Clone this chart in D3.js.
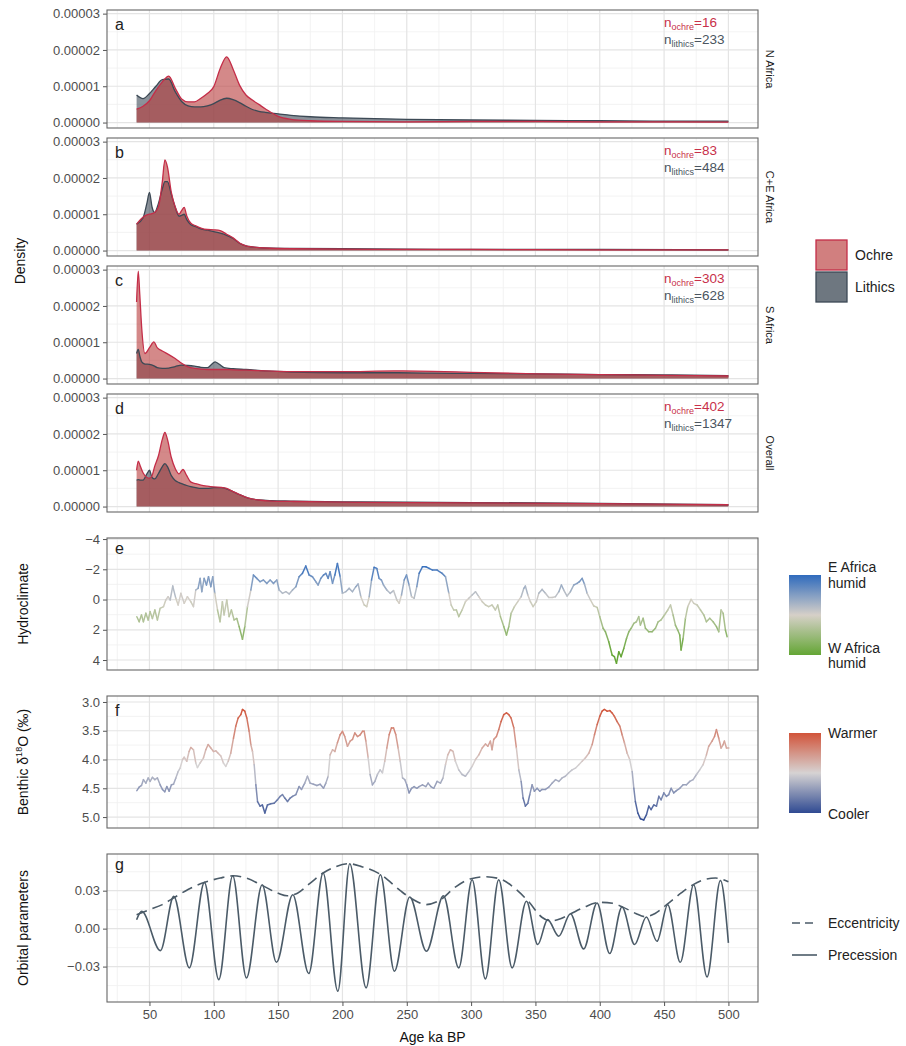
<!DOCTYPE html>
<html>
<head>
<meta charset="utf-8">
<script src="https://cdn.jsdelivr.net/npm/d3@7"></script>
<style>
  body { margin: 0; background: #fff; }
  text { font-family: "Liberation Sans", Arial, sans-serif; }
</style>
</head>
<body>
<div id="chart"></div>
<script>
// ---- data (density values in units of 1e-5) ----
const ageA = [40, 45, 50, 55, 60, 65, 70, 75, 80, 85, 90, 95, 100, 105, 110, 115, 120, 125, 130, 135, 140, 150, 160, 175, 200, 250, 300, 350, 400, 450, 500];
const ochreA = [0.37, 0.45, 0.6, 0.88, 1.12, 1.28, 0.95, 0.65, 0.57, 0.57, 0.67, 0.8, 0.99, 1.49, 1.81, 1.47, 1.03, 0.76, 0.62, 0.5, 0.38, 0.17, 0.09, 0.05, 0.03, 0.02, 0.03, 0.03, 0.02, 0.02, 0.01];
const lithicsA = [0.76, 0.66, 0.8, 1.0, 1.18, 1.2, 0.85, 0.58, 0.46, 0.43, 0.43, 0.46, 0.52, 0.62, 0.67, 0.63, 0.55, 0.45, 0.36, 0.31, 0.28, 0.24, 0.2, 0.16, 0.13, 0.09, 0.07, 0.06, 0.05, 0.04, 0.04];

const ageB = [40, 45, 48, 50, 52, 54, 57, 60, 62, 64, 67, 70, 73, 75, 77, 79, 82, 86, 90, 95, 100, 105, 110, 115, 120, 125, 130, 140, 160, 200, 250, 300, 400, 500];
const ochreB = [0.73, 0.92, 0.98, 1.0, 1.02, 1.05, 1.2, 1.9, 2.5, 2.3, 1.6, 1.2, 1.0, 1.1, 1.19, 0.95, 0.76, 0.68, 0.62, 0.58, 0.57, 0.55, 0.45, 0.35, 0.21, 0.13, 0.1, 0.07, 0.05, 0.04, 0.03, 0.03, 0.02, 0.02];
const lithicsB = [0.73, 0.9, 1.3, 1.6, 1.2, 1.05, 1.3, 1.7, 1.9, 1.9, 1.55, 1.2, 0.95, 0.97, 1.0, 0.85, 0.72, 0.66, 0.6, 0.56, 0.52, 0.48, 0.42, 0.33, 0.2, 0.13, 0.1, 0.07, 0.06, 0.05, 0.04, 0.03, 0.03, 0.02];

const ageC = [40, 41.3, 42.5, 44, 46.5, 50, 53.5, 56, 60, 65, 70, 75, 80, 85, 90, 95, 98, 101, 104, 108, 115, 125, 140, 160, 200, 240, 270, 300, 350, 400, 450, 500];
const ochreC = [2.11, 2.96, 2.3, 1.38, 0.69, 0.85, 1.01, 0.85, 0.76, 0.66, 0.55, 0.42, 0.32, 0.28, 0.26, 0.25, 0.25, 0.25, 0.25, 0.25, 0.24, 0.23, 0.21, 0.19, 0.19, 0.21, 0.2, 0.17, 0.13, 0.11, 0.09, 0.07];
const lithicsC = [0.69, 0.8, 0.62, 0.46, 0.4, 0.39, 0.35, 0.3, 0.28, 0.29, 0.33, 0.37, 0.36, 0.34, 0.31, 0.3, 0.38, 0.46, 0.4, 0.3, 0.27, 0.25, 0.21, 0.18, 0.16, 0.16, 0.15, 0.14, 0.13, 0.11, 0.1, 0.08];

const ageD = [40, 41.3, 43, 45, 48, 50, 52, 54, 57, 60, 62, 64, 67, 70, 73, 76, 79, 82, 86, 90, 95, 100, 106, 110, 115, 120, 127, 135, 145, 160, 200, 250, 300, 400, 500];
const ochreD = [1.0, 1.25, 1.1, 0.93, 0.8, 0.78, 0.85, 1.1, 1.4, 1.85, 2.04, 1.85, 1.35, 1.05, 0.9, 1.02, 0.85, 0.68, 0.63, 0.59, 0.56, 0.54, 0.53, 0.5, 0.41, 0.33, 0.23, 0.18, 0.15, 0.14, 0.12, 0.11, 0.1, 0.08, 0.05];
const lithicsD = [0.73, 0.74, 0.73, 0.73, 0.9, 1.0, 0.8, 0.76, 0.91, 1.1, 1.18, 1.1, 0.85, 0.72, 0.66, 0.62, 0.58, 0.55, 0.52, 0.5, 0.5, 0.52, 0.52, 0.49, 0.41, 0.33, 0.23, 0.18, 0.16, 0.15, 0.13, 0.12, 0.11, 0.09, 0.05];

const regions = ["N Africa", "C+E Africa", "S Africa", "Overall"];
const nOchre = [16, 83, 303, 402];
const nLithics = [233, 484, 628, 1347];

const hydroAge = [40.2, 42, 43.8, 45.3, 47.2, 49, 50.5, 52.3, 54.2, 56.2, 58.3, 60.9, 62.7, 64.5, 66.1, 68.1, 70.5, 72.3, 74.4, 77, 79.5, 82.1, 84.2, 86, 87.8, 89.4, 90.7, 92.5, 94.3, 95.9, 97.7, 99.2, 100.8, 102.9, 104.9, 106.7, 108, 110.1, 111.9, 113.7, 115.8, 117.9, 119.7, 122.3, 124.1, 126.2, 128.8, 130.8, 133.4, 136, 138.6, 141.2, 143.8, 146.4, 149, 150.8, 153.4, 156, 158.6, 161.2, 163.8, 166.3, 168.9, 171.5, 174.1, 176.7, 179.3, 181.1, 183.2, 185.3, 187.1, 188.9, 190.4, 192.3, 194.1, 196.1, 198.2, 200, 202.6, 205.2, 207.8, 210.4, 212.2, 214.3, 216.9, 218.9, 220.8, 222.6, 224.6, 226.7, 228.5, 230.3, 231.9, 234.5, 237.1, 239.7, 242.3, 244.1, 245.9, 248, 249.8, 251.8, 253.7, 255.7, 257.8, 259.6, 262.2, 264.8, 267.4, 270, 273.6, 277.5, 280.1, 282.7, 284.5, 286.5, 288.6, 290.4, 293, 295.6, 298.2, 300.8, 303.4, 306, 308.6, 311.2, 313.7, 316.3, 318.9, 320.7, 322.8, 325.4, 327.5, 329.3, 331.1, 333.7, 336.3, 338.9, 341, 342.2, 344.1, 346.1, 348.2, 350.8, 352.6, 355.2, 357.8, 360.4, 363, 365.6, 368.2, 370.2, 372, 374.6, 377.2, 379.8, 382.4, 384.2, 386.3, 388.1, 390.2, 392.8, 395.4, 398, 400, 402.6, 404.4, 407, 409.6, 411.4, 413, 414.8, 416.6, 418.7, 420.8, 422.6, 424.4, 426.5, 428.5, 430.3, 431.6, 433.7, 435.5, 438.1, 440.7, 443.3, 445.4, 447.7, 450.3, 452.9, 455, 457, 458.8, 460.6, 462.2, 463.2, 464.8, 466.6, 468.4, 471, 473.1, 475.7, 478.3, 480.9, 482.9, 485.5, 488.1, 490.7, 492.5, 494.3, 495.9, 497.7, 499];
const hydroValue = [1.14, 1.47, 1.02, 1.47, 0.91, 1.36, 0.8, 1.25, 0.69, 1.35, 0.58, 0.47, 0.03, -0.19, 0.03, -0.89, -0.08, 0.36, -0.41, 0.25, -0.19, 0.14, 0.47, -0.63, -0.74, -1.4, -0.52, -1.4, -0.96, -1.51, -0.85, -1.51, -0.41, 0.69, 1.47, 0.14, 1.02, 0.03, 1.13, 0.69, 1.35, 1.25, 1.79, 2.63, 1.79, 0.47, -0.63, -1.62, -1.4, -1.18, -1.29, -1.07, -1.29, -1.07, -1.29, -0.63, -0.41, -0.52, -0.37, -0.63, -0.85, -1.51, -1.73, -2.22, -1.62, -1.51, -1.18, -0.96, -1.4, -1.62, -1.73, -1.4, -1.84, -1.07, -1.62, -2.39, -1.51, -0.41, -0.52, -0.74, -0.52, -0.85, -1.03, -0.19, 0.36, 0.47, -0.19, -1.29, -2.13, -2.06, -1.4, -1.29, -0.96, -0.63, -0.41, -0.59, 0.03, 0.25, -0.3, -1.29, -1.62, -0.96, -0.19, -0.08, -0.85, -1.73, -2.17, -2.17, -2.06, -1.95, -1.95, -1.73, -1.51, -0.41, 0.36, 0.69, 0.69, 1.13, 0.69, 0.14, -0.08, -0.3, -0.52, -0.19, 0.14, 0.36, 0.47, 0.36, 0.69, 0.36, 1.13, 1.79, 2.35, 1.79, 0.91, 0.47, 0.14, -0.19, -0.74, -0.89, -0.3, 0.14, 0.47, 0.14, -0.41, -0.67, -0.41, -0.14, -0.14, -0.19, -0.52, -0.96, -0.63, -0.23, -0.52, -0.96, -1.07, -1.18, -1.4, -1.03, -0.41, 0.03, 0.43, 0.52, 1.13, 1.9, 2.13, 2.79, 3.67, 3.78, 4.22, 3.45, 3.78, 3.23, 2.57, 2.13, 1.9, 1.57, 1.47, 1.13, 1.69, 1.24, 1.9, 2.13, 2.13, 1.9, 1.47, 1.35, 1.02, 0.69, 0.36, 1.02, 1.69, 2.02, 2.35, 3.34, 2.57, 1.24, 0.47, -0.01, 0.25, 0.36, 0.69, 1.02, 1.47, 1.24, 1.47, 1.79, 2.13, 0.69, 0.91, 2.02, 2.46];

const d18OAge = [40.2, 42, 43.8, 45.3, 47.2, 49, 50.5, 52.3, 54.2, 56.2, 58.3, 60.1, 61.9, 63.5, 65.3, 67.1, 68.7, 70.5, 72.3, 73.8, 75.7, 77, 79, 80.8, 82.1, 84.2, 86, 87.3, 89.4, 92, 93.8, 95.6, 97.7, 99.8, 101.6, 103.4, 105.5, 107.5, 109.3, 111.2, 113.2, 115.3, 117.1, 118.9, 121, 122.3, 124.1, 125.7, 127.5, 128.8, 130.1, 131.4, 132.7, 134, 136, 137.8, 139.7, 141.7, 144.3, 146.9, 149.5, 151.6, 153.4, 155.2, 157.3, 159.4, 161.2, 163.8, 166.3, 168.2, 170.7, 172.8, 174.9, 177.5, 180.1, 182.7, 185.3, 187.1, 188.9, 190.4, 192.3, 194.1, 196.1, 198.2, 200, 201.8, 203.9, 206, 207.8, 209.6, 211.7, 213.8, 215.6, 216.9, 218.2, 220, 221.5, 223.3, 225.2, 227.2, 229.3, 231.1, 232.9, 234.5, 236.3, 238.1, 239.7, 241.5, 243.3, 244.9, 246.7, 248.5, 250, 251.8, 253.7, 255.7, 257.8, 259.6, 262.2, 264.8, 266.6, 268.7, 271, 273.6, 276.2, 278.2, 280.1, 281.9, 283.9, 286, 287.8, 290.4, 293, 295.6, 298.2, 300.8, 303.4, 306, 308.6, 311.2, 313, 315, 316.3, 317.6, 319.7, 321.5, 323.3, 325.4, 327.5, 329.3, 331.1, 333.2, 335.2, 337.1, 338.9, 340.4, 342.2, 344.1, 345.6, 347.4, 349.2, 351.3, 353.4, 355.2, 357.8, 360.4, 363, 365.6, 368.2, 370.7, 373.3, 375.9, 378.5, 381.1, 383.7, 386.3, 388.9, 391.5, 394.1, 395.9, 398, 400, 401.8, 403.6, 405.7, 407.8, 409.6, 411.4, 413.5, 415.6, 417.4, 419.2, 421.3, 423.3, 425.2, 426.5, 427.7, 429.6, 431.6, 434.2, 436.3, 438.1, 439.9, 442, 444.1, 445.9, 447.7, 449.8, 451.8, 453.6, 455.5, 457.5, 459.6, 462.2, 464.8, 467.4, 470, 472.6, 475.2, 477.7, 480.3, 482.9, 484.7, 487.3, 489.2, 490.7, 492.5, 494.3, 495.9, 496.9, 498.5, 500.3];
const d18OValue = [4.54, 4.48, 4.45, 4.35, 4.41, 4.32, 4.38, 4.31, 4.35, 4.32, 4.44, 4.52, 4.56, 4.47, 4.55, 4.44, 4.43, 4.32, 4.21, 4.15, 4.0, 3.96, 4.03, 3.86, 3.79, 3.83, 4.06, 4.14, 4.06, 3.97, 3.83, 3.74, 3.8, 3.86, 3.85, 3.89, 3.94, 4.06, 4.12, 4.03, 3.89, 3.63, 3.42, 3.28, 3.22, 3.13, 3.16, 3.28, 3.51, 3.74, 3.86, 4.09, 4.44, 4.73, 4.81, 4.79, 4.93, 4.79, 4.77, 4.76, 4.7, 4.64, 4.61, 4.67, 4.73, 4.67, 4.64, 4.61, 4.47, 4.52, 4.41, 4.29, 4.41, 4.43, 4.45, 4.43, 4.5, 4.41, 4.29, 3.92, 3.83, 3.86, 3.71, 3.57, 3.51, 3.6, 3.77, 3.68, 3.65, 3.54, 3.6, 3.57, 3.51, 3.51, 3.68, 3.97, 4.26, 4.44, 4.38, 4.26, 4.18, 4.23, 4.03, 3.8, 3.57, 3.45, 3.45, 3.57, 3.8, 4.03, 4.32, 4.35, 4.44, 4.58, 4.5, 4.47, 4.5, 4.47, 4.44, 4.47, 4.41, 4.47, 4.5, 4.38, 4.41, 4.32, 4.09, 3.92, 3.83, 3.86, 4.03, 4.18, 4.26, 4.29, 4.21, 4.12, 4.0, 3.92, 3.8, 3.73, 3.77, 3.68, 3.83, 3.65, 3.6, 3.48, 3.34, 3.22, 3.19, 3.22, 3.28, 3.45, 3.8, 4.18, 4.38, 4.67, 4.81, 4.76, 4.61, 4.44, 4.55, 4.5, 4.55, 4.52, 4.52, 4.48, 4.41, 4.35, 4.38, 4.32, 4.29, 4.23, 4.18, 4.15, 4.09, 4.03, 3.97, 3.89, 3.74, 3.57, 3.39, 3.25, 3.16, 3.13, 3.16, 3.15, 3.19, 3.25, 3.34, 3.42, 3.57, 3.71, 3.89, 4.0, 4.21, 4.5, 4.73, 4.93, 5.03, 5.05, 4.96, 4.81, 4.87, 4.79, 4.81, 4.64, 4.7, 4.58, 4.64, 4.61, 4.5, 4.58, 4.54, 4.5, 4.44, 4.44, 4.38, 4.35, 4.26, 4.18, 4.09, 3.92, 3.77, 3.68, 3.6, 3.48, 3.63, 3.8, 3.74, 3.68, 3.8, 3.8];

const eccAge = [40, 50, 60, 70, 80, 93, 105, 115, 125, 138, 150, 157, 165, 175, 185, 195, 205, 215, 230, 245, 255, 265, 275, 288, 300, 311, 322, 335, 345, 355, 362, 370, 377, 388, 400, 410, 418, 428, 435, 443, 452, 463, 473, 482, 490, 500];
const eccValue = [0.011, 0.015, 0.019, 0.025, 0.031, 0.0366, 0.040, 0.0418, 0.040, 0.034, 0.028, 0.026, 0.028, 0.036, 0.044, 0.049, 0.0513, 0.049, 0.0426, 0.030, 0.023, 0.019, 0.022, 0.033, 0.0395, 0.041, 0.0395, 0.031, 0.021, 0.009, 0.006, 0.008, 0.0115, 0.017, 0.0208, 0.020, 0.017, 0.012, 0.0095, 0.012, 0.019, 0.028, 0.035, 0.039, 0.040, 0.037];
const precAge = [40, 44, 58.5, 68.9, 81, 92.7, 103.9, 114.7, 125.4, 137.6, 148.7, 161.4, 173.8, 185, 196.4, 205.7, 218.4, 229.5, 240.4, 252.3, 265.3, 278.5, 290.4, 300.8, 311.1, 321.5, 331.9, 343, 351.8, 359.5, 368.1, 377.2, 387.5, 397.9, 407.7, 417.3, 427.1, 436.2, 444.5, 452.8, 462.6, 473, 483.4, 493.8, 500];
const precValue = [0.007, 0.0137, -0.0174, 0.0255, -0.031, 0.0366, -0.0403, 0.0418, -0.039, 0.0347, -0.0266, 0.0268, -0.0355, 0.044, -0.0495, 0.0513, -0.0468, 0.0426, -0.0337, 0.025, -0.0179, 0.026, -0.031, 0.0387, -0.0397, 0.0387, -0.031, 0.0216, -0.0126, 0.0071, -0.006, 0.0118, -0.016, 0.0203, -0.0197, 0.0171, -0.0126, 0.0092, -0.01, 0.0189, -0.0266, 0.0347, -0.0382, 0.038, -0.0113];

const xTicks = [50, 100, 150, 200, 250, 300, 350, 400, 450, 500];
const densityTicks = [0, 1, 2, 3];
const hydroTicks = [-4, -2, 0, 2, 4];
const d18OTicks = [3.0, 3.5, 4.0, 4.5, 5.0];
const orbitalTicks = [-0.03, 0, 0.03];

// ---- setup ----
const W = 906, H = 1046;
const left = 107, right = 758;
const ochreLine = "#c42d48", ochreFill = "#b83a3a";
const lithicsLine = "#3c4955", lithicsFill = "#3e4a56";
const slate = "#4b5b68";

const svg = d3.select("#chart").append("svg")
  .attr("width", W).attr("height", H);

const x = d3.scaleLinear().domain([17, 523]).range([left, right]);

function frame(top, h, y, ticks, minor, fmt, letter, letterDy) {
  const g = svg.append("g");
  // minor grid
  g.selectAll(".vmin").data(d3.range(25, 500, 50)).enter().append("line")
    .attr("x1", d => x(d)).attr("x2", d => x(d)).attr("y1", top).attr("y2", top + h)
    .attr("stroke", "#f0f0f0").attr("stroke-width", 0.8);
  g.selectAll(".hmin").data(minor).enter().append("line")
    .attr("x1", left).attr("x2", right).attr("y1", d => y(d)).attr("y2", d => y(d))
    .attr("stroke", "#f0f0f0").attr("stroke-width", 0.8);
  // major grid
  g.selectAll(".vmaj").data(xTicks).enter().append("line")
    .attr("x1", d => x(d)).attr("x2", d => x(d)).attr("y1", top).attr("y2", top + h)
    .attr("stroke", "#e4e4e4").attr("stroke-width", 1.2);
  g.selectAll(".hmaj").data(ticks).enter().append("line")
    .attr("x1", left).attr("x2", right).attr("y1", d => y(d)).attr("y2", d => y(d))
    .attr("stroke", "#e4e4e4").attr("stroke-width", 1.2);

  // y axis
  const ax = svg.append("g")
    .attr("transform", "translate(" + left + ",0)")
    .call(d3.axisLeft(y).tickValues(ticks).tickFormat(fmt).tickSize(4).tickPadding(3));
  ax.select(".domain").remove();
  ax.selectAll("line").attr("stroke", "#555");
  ax.selectAll("text").attr("fill", "#4d4d4d").style("font-size", "13px")
    .style("font-family", "'Liberation Sans', Arial, sans-serif");

  svg.append("text").attr("x", 115).attr("y", top + letterDy)
    .style("font-size", "16px").attr("fill", "#222").text(letter);
  return g;
}

function border(top, h) {
  svg.append("rect").attr("x", left).attr("y", top).attr("width", right - left).attr("height", h)
    .attr("fill", "none").attr("stroke", "#666").attr("stroke-width", 1.1);
}

// ---- density panels a-d ----
const densTops = [10, 138, 266, 394];
const densH = 118;
const densData = [
  [ageA, ochreA, lithicsA], [ageB, ochreB, lithicsB],
  [ageC, ochreC, lithicsC], [ageD, ochreD, lithicsD]
];
const letters = ["a", "b", "c", "d"];

densData.forEach((dd, i) => {
  const top = densTops[i];
  const y = d3.scaleLinear().domain([-0.15, 3.1]).range([top + densH, top]);
  frame(top, densH, y, densityTicks, [0.5, 1.5, 2.5],
    d => (d * 1e-5).toFixed(5), letters[i], 20);

  const lith = d3.zip(dd[0], dd[2]);
  const och = d3.zip(dd[0], dd[1]);
  const area = d3.area().x(d => x(d[0])).y0(y(0)).y1(d => y(d[1])).curve(d3.curveMonotoneX);
  const line = d3.line().x(d => x(d[0])).y(d => y(d[1])).curve(d3.curveMonotoneX);

  svg.append("path").datum(lith).attr("d", area).attr("fill", lithicsFill).attr("fill-opacity", 0.6);
  svg.append("path").datum(och).attr("d", area).attr("fill", ochreFill).attr("fill-opacity", 0.6);
  svg.append("path").datum(lith).attr("d", line).attr("fill", "none")
    .attr("stroke", lithicsLine).attr("stroke-width", 1.3);
  svg.append("path").datum(och).attr("d", line).attr("fill", "none")
    .attr("stroke", ochreLine).attr("stroke-width", 1.3);

  border(top, densH);

  // n annotations
  const t1 = svg.append("text").attr("x", 664).attr("y", top + 17).attr("fill", "#c8304a")
    .style("font-size", "13.5px");
  t1.append("tspan").text("n");
  t1.append("tspan").attr("dy", 3).style("font-size", "9px").text("ochre");
  t1.append("tspan").attr("dy", -3).text("=" + nOchre[i]);
  const t2 = svg.append("text").attr("x", 664).attr("y", top + 34).attr("fill", "#4a5560")
    .style("font-size", "13.5px");
  t2.append("tspan").text("n");
  t2.append("tspan").attr("dy", 3).style("font-size", "9px").text("lithics");
  t2.append("tspan").attr("dy", -3).text("=" + nLithics[i]);

  // strip label
  svg.append("text").attr("transform", "translate(766," + (top + densH / 2) + ") rotate(90)")
    .attr("text-anchor", "middle").style("font-size", "11px").attr("fill", "#1a1a1a")
    .text(regions[i]);
});

svg.append("text").attr("transform", "translate(25,261) rotate(-90)")
  .attr("text-anchor", "middle").style("font-size", "14px").attr("fill", "#111").text("Density");

// density legend
[["Ochre", ochreFill, 0.65, ochreLine], ["Lithics", lithicsFill, 0.75, lithicsLine]].forEach((k, i) => {
  const yy = 240 + i * 32;
  svg.append("rect").attr("x", 816).attr("y", yy).attr("width", 31).attr("height", 30)
    .attr("fill", k[1]).attr("fill-opacity", k[2]).attr("stroke", k[3]).attr("stroke-width", 1.3);
  svg.append("text").attr("x", 855).attr("y", yy + 20).style("font-size", "14px")
    .attr("fill", "#222").text(k[0]);
});

// ---- gradient line helper ----
function gradientLine(ages, vals, y, color) {
  const segs = d3.range(ages.length - 1);
  svg.append("g").selectAll("line").data(segs).enter().append("line")
    .attr("x1", i => x(ages[i])).attr("y1", i => y(vals[i]))
    .attr("x2", i => x(ages[i + 1])).attr("y2", i => y(vals[i + 1]))
    .attr("stroke", i => color((vals[i] + vals[i + 1]) / 2))
    .attr("stroke-width", 1.5).attr("stroke-linecap", "round");
}

// legend bar: top half spans dom[0]..dom[1], bottom half dom[1]..dom[2]
function gradientLegend(id, color, dom, top, labels) {
  const grad = svg.append("defs").append("linearGradient").attr("id", id)
    .attr("x1", 0).attr("x2", 0).attr("y1", 0).attr("y2", 1);
  d3.range(0, 1.0001, 0.05).forEach(t => {
    const v = t <= 0.5 ? dom[0] + (t / 0.5) * (dom[1] - dom[0])
                       : dom[1] + ((t - 0.5) / 0.5) * (dom[2] - dom[1]);
    grad.append("stop").attr("offset", t).attr("stop-color", color(v));
  });
  svg.append("rect").attr("x", 789).attr("y", top).attr("width", 32).attr("height", 80)
    .attr("fill", "url(#" + id + ")");
  labels.forEach(l => {
    svg.append("text").attr("x", 828).attr("y", l[1]).style("font-size", "14px")
      .attr("fill", "#222").text(l[0]);
  });
}

// ---- panel e: hydroclimate ----
const eTop = 538, eH = 132;
const yE = d3.scaleLinear().domain([-4.07, 4.66]).range([eTop, eTop + eH]);
frame(eTop, eH, yE, hydroTicks, [-3, -1, 1, 3], d3.format("d"), "e", 16);
const hydroDom = [-2.3, 0, 3.6];
const hydroColor = d3.scaleLinear().domain(hydroDom)
  .range(["#2f6bbd", "#d6d0c8", "#64a635"]).interpolate(d3.interpolateRgb).clamp(true);
gradientLine(hydroAge, hydroValue, yE, hydroColor);
border(eTop, eH);
svg.append("text").attr("transform", "translate(28," + (eTop + eH / 2) + ") rotate(-90)")
  .attr("text-anchor", "middle").style("font-size", "14px").attr("fill", "#111").text("Hydroclimate");
gradientLegend("gradE", hydroColor, hydroDom, 575,
  [["E Africa", 572], ["humid", 588], ["W Africa", 653], ["humid", 668]]);

// ---- panel f: benthic d18O ----
const fTop = 696, fH = 132;
const yF = d3.scaleLinear().domain([2.896, 5.19]).range([fTop, fTop + fH]);
frame(fTop, fH, yF, d18OTicks, [3.25, 3.75, 4.25, 4.75], d3.format(".1f"), "f", 20);
const d18ODom = [3.13, 4.09, 5.05];
const d18OColor = d3.scaleLinear().domain(d18ODom)
  .range(["#d1543a", "#d6d3d3", "#2f4a92"]).interpolate(d3.interpolateRgb).clamp(true);
gradientLine(d18OAge, d18OValue, yF, d18OColor);
border(fTop, fH);
const fl = svg.append("text").attr("transform", "translate(28," + (fTop + fH / 2) + ") rotate(-90)")
  .attr("text-anchor", "middle").style("font-size", "14px").attr("fill", "#111");
fl.append("tspan").text("Benthic \u03b4");
fl.append("tspan").attr("dy", -6).style("font-size", "9px").text("18");
fl.append("tspan").attr("dy", 6).text("O (\u2030)");
gradientLegend("gradF", d18OColor, d18ODom, 733,
  [["Warmer", 738], ["Cooler", 819]]);

// ---- panel g: orbital ----
const gTop = 854, gH = 148;
const yG = d3.scaleLinear().domain([-0.058, 0.059]).range([gTop + gH, gTop]);
frame(gTop, gH, yG, orbitalTicks, [-0.045, -0.015, 0.015, 0.045], d3.format(".2f"), "g", 16);
const orbLine = d3.line().x(d => x(d[0])).y(d => yG(d[1])).curve(d3.curveMonotoneX);
svg.append("path").datum(d3.zip(precAge, precValue)).attr("d", orbLine)
  .attr("fill", "none").attr("stroke", slate).attr("stroke-width", 1.6);
svg.append("path").datum(d3.zip(eccAge, eccValue)).attr("d", orbLine)
  .attr("fill", "none").attr("stroke", slate).attr("stroke-width", 1.6)
  .attr("stroke-dasharray", "11,6");
border(gTop, gH);
svg.append("text").attr("transform", "translate(28," + (gTop + gH / 2) + ") rotate(-90)")
  .attr("text-anchor", "middle").style("font-size", "14px").attr("fill", "#111").text("Orbital parameters");

// x axis
const xa = svg.append("g").attr("transform", "translate(0," + (gTop + gH) + ")")
  .call(d3.axisBottom(x).tickValues(xTicks).tickSize(4).tickPadding(4));
xa.select(".domain").remove();
xa.selectAll("line").attr("stroke", "#555");
xa.selectAll("text").attr("fill", "#4d4d4d").style("font-size", "13px")
  .style("font-family", "'Liberation Sans', Arial, sans-serif");
svg.append("text").attr("x", (left + right) / 2).attr("y", 1042).attr("text-anchor", "middle")
  .style("font-size", "14px").attr("fill", "#111").text("Age ka BP");

// orbital legend
[["Eccentricity", "8,5", 923], ["Precession", null, 955]].forEach(k => {
  svg.append("line").attr("x1", 792).attr("x2", 817).attr("y1", k[2]).attr("y2", k[2])
    .attr("stroke", slate).attr("stroke-width", 1.6).attr("stroke-dasharray", k[1]);
  svg.append("text").attr("x", 828).attr("y", k[2] + 5).style("font-size", "14px")
    .attr("fill", "#222").text(k[0]);
});
</script>
</body>
</html>
